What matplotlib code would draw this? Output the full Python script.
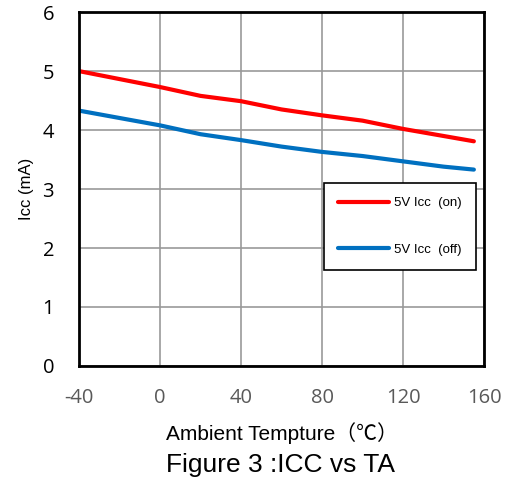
import matplotlib
matplotlib.use("Agg")
import matplotlib.pyplot as plt
from matplotlib import font_manager

# readings from the datasheet curve
temp = [-40, 0, 20, 40, 60, 80, 100, 120, 140, 155]
icc_on = [5.00, 4.73, 4.58, 4.49, 4.35, 4.25, 4.16, 4.02, 3.90, 3.81]
icc_off = [4.33, 4.08, 3.93, 3.83, 3.72, 3.63, 3.56, 3.47, 3.38, 3.33]

x_ticks = [-40, 0, 40, 80, 120, 160]
y_ticks = [0, 1, 2, 3, 4, 5, 6]

plt.rcParams["axes.unicode_minus"] = False

names = {f.name for f in font_manager.fontManager.ttflist}
narrow = "Liberation Sans Narrow" if "Liberation Sans Narrow" in names else "Liberation Sans"
tick_font = "Open Sans"

fig = plt.figure(figsize=(5.1, 4.86), dpi=100)
ax = fig.add_axes([0.155, 0.247, 0.794, 0.728])

ax.plot(temp, icc_on, color="#FF0000", lw=3, solid_capstyle="round", label="5V Icc  (on)")
ax.plot(temp, icc_off, color="#0070C0", lw=3, solid_capstyle="round", label="5V Icc  (off)")

ax.set_xlim(-40, 160)
ax.set_ylim(0, 6)
ax.set_xticks(x_ticks)
ax.set_yticks(y_ticks)
ax.grid(True, color="#999999", lw=1.2)
ax.set_axisbelow(True)
for s in ax.spines.values():
    s.set_linewidth(2)
    s.set_color("black")

ax.tick_params(axis="x", length=0, pad=16)
ax.tick_params(axis="y", length=0, pad=18)
for t in ax.get_yticklabels():
    t.set_fontfamily(tick_font)
    t.set_fontsize(14.5)
    t.set_color("black")
for t in ax.get_xticklabels():
    t.set_fontfamily(tick_font)
    t.set_fontsize(14.5)
    t.set_color("#595959")

ax.set_ylabel("Icc (mA)", family=narrow, fontsize=12, labelpad=6)
ax.set_xlabel("Ambient Tempture（℃）", family=["Liberation Sans", "Noto Sans CJK SC"],
              fontsize=15, labelpad=10)
fig.text(0.55, 0.043, "Figure 3 :ICC vs TA", family="Liberation Sans",
         fontsize=19, ha="center", va="center")

leg = ax.legend(loc="upper right", bbox_to_anchor=(0.980, 0.517), borderaxespad=0,
                prop={"family": narrow, "size": 9.5},
                fancybox=False, edgecolor="black", framealpha=1,
                handlelength=3.9, handletextpad=0.4, labelspacing=2.6,
                borderpad=1.05)
leg.get_frame().set_linewidth(1.2)

fig.savefig("out.png", dpi=100)
